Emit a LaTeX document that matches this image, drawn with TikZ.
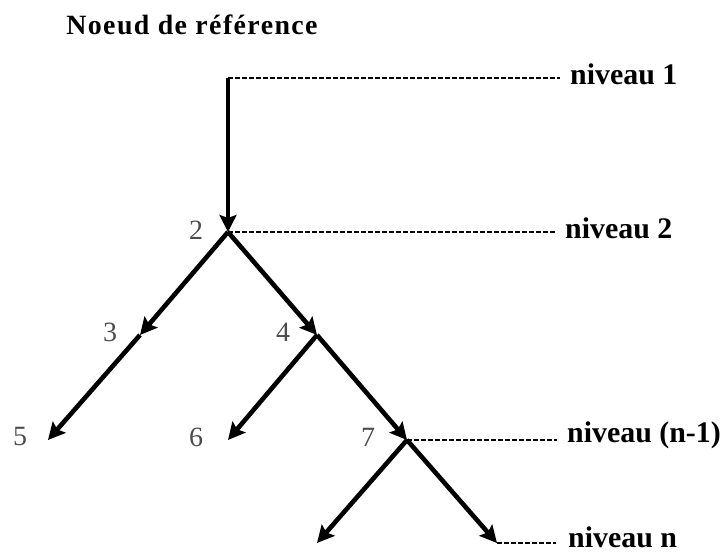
\documentclass[tikz,border=0pt]{standalone}
\usepackage{fontspec}
\setmainfont{Liberation Serif}
\usetikzlibrary{arrows.meta}
\begin{document}
\begin{tikzpicture}[x=1bp,y=1bp,
  edge/.style={line width=4.6bp,-{Stealth[length=17bp,width=17bp,inset=3bp]}},
  lvl/.style={line width=1.8bp,dash pattern=on 5bp off 2bp},
  num/.style={text=black!70,inner sep=0pt,font=\fontsize{28}{28}\selectfont},
  lvltext/.style={anchor=base west,inner sep=0pt,font=\bfseries\fontsize{30}{30}\selectfont}]
\useasboundingbox (0,0) rectangle (724,554);
% tree points
\coordinate (r) at (228,476);
\coordinate (n2) at (228,322);
\coordinate (n3) at (140,219);
\coordinate (n4) at (317,219);
\coordinate (n5) at (48,114);
\coordinate (n6) at (228,114);
\coordinate (n7) at (407,114);
\coordinate (n8) at (317,11);
\coordinate (n9) at (497,11);
% title
\node[inner sep=0pt,font=\bfseries\fontsize{28}{28}\selectfont\addfontfeature{LetterSpace=5}] (title) at (192,529) {Noeud de référence};
% number labels
\node[num] (t2) at (196,324) {2};
\node[num] (t3) at (110,222) {3};
\node[num] (t4) at (283,222) {4};
\node[num] (t5) at (20,117) {5};
\node[num] (t6) at (196,117) {6};
\node[num] (t7) at (368,117) {7};
% level labels
\node[lvltext] (l1) at (570,469) {niveau 1};
\node[lvltext] (l2) at (565,315) {niveau 2};
\node[lvltext] (l3) at (567,111) {niveau (n-1)};
\node[lvltext] (l4) at (568,6) {niveau n};
% dashed level lines
\draw[lvl] (r) -- ([xshift=-10bp]l1.west |- r);
\draw[lvl] (n2) -- ([xshift=-10bp]l2.west |- n2);
\draw[lvl] (n7) -- ([xshift=-10bp]l3.west |- n7);
\draw[lvl] (n9) -- ([xshift=-12bp]l4.west |- n9);
% edges
\draw[edge] (r) -- (n2);
\draw[edge] (n2) -- (n3);
\draw[edge] (n2) -- (n4);
\draw[edge] (n3) -- (n5);
\draw[edge] (n4) -- (n6);
\draw[edge] (n4) -- (n7);
\draw[edge] (n7) -- (n8);
\draw[edge] (n7) -- (n9);
\end{tikzpicture}
\end{document}
